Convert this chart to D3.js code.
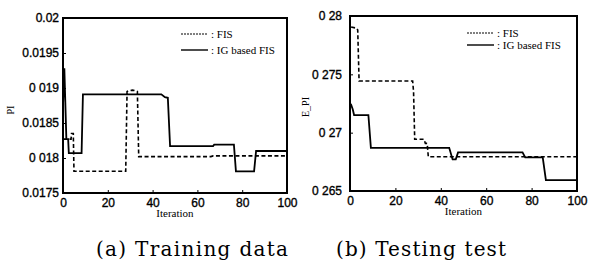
<!DOCTYPE html>
<html><head><meta charset="utf-8">
<script src="https://cdn.jsdelivr.net/npm/d3@7/dist/d3.min.js"></script>
<style>
body{margin:0;background:#fff;}
svg{display:block;}
.tick text{font-family:"Liberation Sans",Arial,sans-serif;font-size:12px;fill:#000;stroke:#000;stroke-width:0.35px;}
</style></head>
<body><svg id="c" width="592" height="266"></svg>
<script>
// ---- Data ----
const iterTicks = [0, 20, 40, 60, 80, 100];
const iterTickLabels = ["0", "20", "40", "60", "80", "100"];

const trainYTicks = [0.0175, 0.018, 0.0185, 0.019, 0.0195, 0.02];
const trainYTickLabels = ["0.0175", "0 018", "0.0185", "0 019", "0.0195", "0.02"];
const testYTicks = [0.265, 0.27, 0.275, 0.28];
const testYTickLabels = ["0 265", "0 27", "0 275", "0 28"];

// (a) Training data
const trainFisIter = [0, 3.6, 3.8, 4.6, 4.9, 28.0, 28.6, 29.5, 31.0, 32.5, 33.2, 33.8, 66, 67, 100];
const trainFisPI   = [0.01827, 0.01827, 0.01835, 0.01835, 0.01781, 0.01781, 0.01895, 0.01896, 0.01897, 0.01896, 0.01895, 0.01802, 0.01802, 0.01803, 0.01803];
const trainIgIter  = [0, 0.6, 1.5, 2.3, 2.6, 8.3, 8.9, 43.9, 45.5, 46.8, 47.8, 67, 67.5, 76.3, 77.2, 85.3, 86.2, 100];
const trainIgPI    = [0.01875, 0.01928, 0.01827, 0.01827, 0.01807, 0.01807, 0.01891, 0.01891, 0.01887, 0.01886, 0.01817, 0.01817, 0.01819, 0.01819, 0.01781, 0.01781, 0.0181, 0.0181];

// (b) Testing test
const testFisIter = [0.5, 2.9, 3.4, 4.0, 27.6, 28.0, 28.5, 32.6, 33.2, 34.0, 34.5, 100];
const testFisPI   = [0.27906, 0.27895, 0.2788, 0.27443, 0.27443, 0.2735, 0.26943, 0.26943, 0.26908, 0.26908, 0.26793, 0.26793];
const testIgIter  = [0, 0.5, 1.2, 1.8, 8.1, 9.2, 43.7, 45.2, 46.6, 47.6, 76.0, 77.2, 84.9, 86.3, 100];
const testIgPI    = [0.2725, 0.2724, 0.2720, 0.27151, 0.27151, 0.2687, 0.2687, 0.26771, 0.26771, 0.26831, 0.26831, 0.26788, 0.26788, 0.26594, 0.26594];

const legendLabels = [": FIS", ": IG based FIS"];
const yLabels = ["PI", "E_PI"];
const xLabel = "Iteration";
const captions = ["(a) Training data", "(b) Testing test"];

// ---- Drawing ----
const svg = d3.select("#c");

function panel(cfg) {
  const x = d3.scaleLinear().domain([0, 100]).range([cfg.x0, cfg.x1]);
  const y = d3.scaleLinear().domain(cfg.ydom).range([cfg.y1, cfg.y0]);
  const g = svg.append("g");

  const ax = g.append("g").attr("transform", `translate(0,${cfg.y1})`)
    .call(d3.axisBottom(x).tickValues(iterTicks).tickFormat((d, i) => iterTickLabels[i]).tickSizeInner(-3).tickSizeOuter(0).tickPadding(5));
  ax.select(".domain").remove();
  ax.selectAll("line").attr("stroke", "#000").attr("stroke-width", 1);

  const ay = g.append("g").attr("transform", `translate(${cfg.x0},0)`)
    .call(d3.axisLeft(y).tickValues(cfg.yticks).tickFormat((d, i) => cfg.ylabels[i]).tickSizeInner(-3).tickSizeOuter(0).tickPadding(cfg.ypad));
  ay.select(".domain").remove();
  ay.selectAll("line").attr("stroke", "#000").attr("stroke-width", 1);

  g.append("rect").attr("x", cfg.x0).attr("y", cfg.y0)
    .attr("width", cfg.x1 - cfg.x0).attr("height", cfg.y1 - cfg.y0)
    .attr("fill", "none").attr("stroke", "#000").attr("stroke-width", 2);

  const line = d3.line().x(d => x(d[0])).y(d => y(d[1]));
  g.append("path").datum(d3.zip(cfg.fisX, cfg.fisY)).attr("d", line)
    .attr("fill", "none").attr("stroke", "#000").attr("stroke-width", 1.6).attr("stroke-dasharray", "4,2.5");
  g.append("path").datum(d3.zip(cfg.igX, cfg.igY)).attr("d", line)
    .attr("fill", "none").attr("stroke", "#000").attr("stroke-width", 1.8);

  // legend
  const lg = g.append("g");
  [0, 1].forEach(i => {
    const ly = cfg.legY[i];
    lg.append("line").attr("x1", cfg.legX).attr("x2", cfg.legX + 27).attr("y1", ly).attr("y2", ly)
      .attr("stroke", "#000").attr("stroke-width", i === 0 ? 1 : 1.4)
      .attr("stroke-dasharray", i === 0 ? "2,1" : null);
    lg.append("text").attr("x", cfg.legX + 30).attr("y", ly + 3.5)
      .attr("font-family", "Liberation Serif, Times New Roman, serif").attr("font-size", 11)
      .text(legendLabels[i]);
  });

  g.append("text").attr("transform", `translate(${cfg.ylabX},${cfg.ylabY}) rotate(-90)`)
    .attr("text-anchor", "middle").attr("font-family", "Liberation Serif, serif").attr("font-size", 10)
    .text(cfg.ylab);
  g.append("text").attr("x", (cfg.x0 + cfg.x1) / 2).attr("y", cfg.xlabY)
    .attr("text-anchor", "middle").attr("font-family", "Liberation Serif, serif").attr("font-size", 11)
    .text(xLabel);
  g.append("text").attr("x", cfg.capX).attr("y", 256)
    .attr("font-family", "DejaVu Serif, serif").attr("font-size", 20)
    .attr("textLength", cfg.capW).attr("lengthAdjust", "spacing")
    .text(cfg.caption);
}

panel({x0: 63, x1: 287, y0: 18, y1: 193, ydom: [0.0175, 0.02],
  yticks: trainYTicks, ylabels: trainYTickLabels, ypad: 4,
  fisX: trainFisIter, fisY: trainFisPI, igX: trainIgIter, igY: trainIgPI,
  legX: 181, legY: [34, 50], ylab: yLabels[0], ylabX: 14, ylabY: 110, xlabY: 217,
  caption: captions[0], capX: 96, capW: 192});

panel({x0: 350, x1: 577, y0: 16, y1: 191, ydom: [0.265, 0.28],
  yticks: testYTicks, ylabels: testYTickLabels, ypad: 8,
  fisX: testFisIter, fisY: testFisPI, igX: testIgIter, igY: testIgPI,
  legX: 467, legY: [33, 45], ylab: yLabels[1], ylabX: 309, ylabY: 107, xlabY: 215,
  caption: captions[1], capX: 336, capW: 170});
</script></body></html>
